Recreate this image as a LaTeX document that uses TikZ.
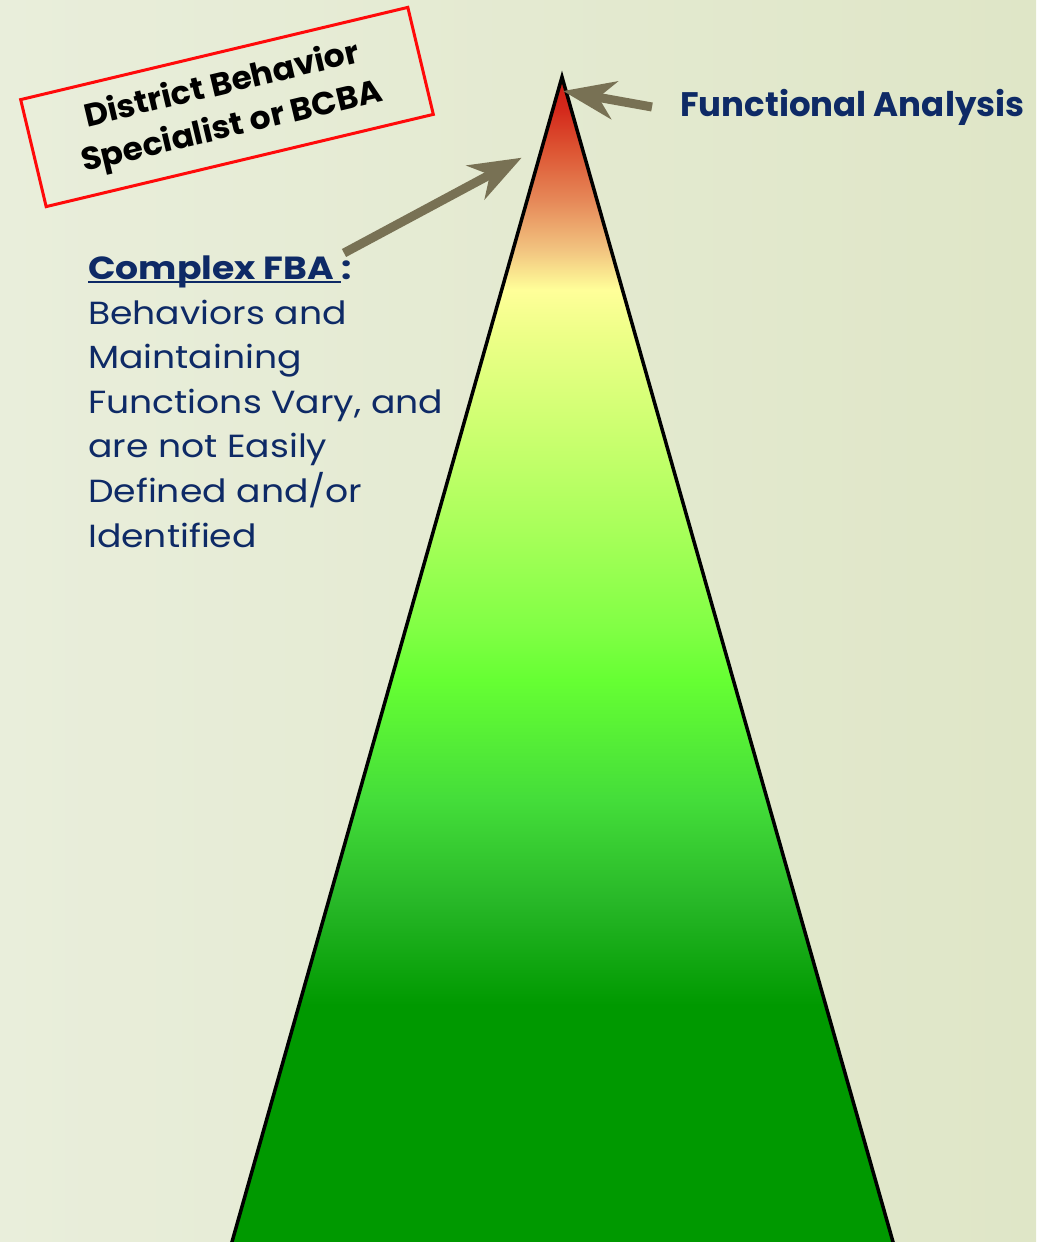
\documentclass[tikz,border=0pt]{standalone}
\usepackage{fontspec}
\setsansfont{Poppins}
\newfontfamily\popwide{Poppins}[FakeStretch=1.13]
\newfontfamily\popmid{Poppins}[FakeStretch=1.03]
\usetikzlibrary{arrows.meta}

% palette
\definecolor{bgL}{HTML}{E9EEDB}
\definecolor{bgR}{HTML}{DFE6C7}
\definecolor{navyc}{HTML}{0E2A66}
\definecolor{arrowc}{HTML}{787154}
\definecolor{boxred}{HTML}{FF0A0A}
\definecolor{pg1}{HTML}{009900}
\definecolor{pg2}{HTML}{28B828}
\definecolor{pg3}{HTML}{44DD3A}
\definecolor{pg4}{HTML}{66FF33}
\definecolor{pg5}{HTML}{80FF44}
\definecolor{pg6}{HTML}{A8FF5A}
\definecolor{pg7}{HTML}{CCFF70}
\definecolor{pg8}{HTML}{EEFF88}
\definecolor{py1}{HTML}{FFFF99}
\definecolor{py2}{HTML}{F2C480}
\definecolor{po1}{HTML}{E68858}
\definecolor{po2}{HTML}{DD5533}
\definecolor{pr2}{HTML}{D42A1C}
\definecolor{pr1}{HTML}{CC1A12}

% colour ramp of the pyramid, bottom (25bp) to apex (75bp)
\pgfdeclareverticalshading{pyramid}{100bp}{%
  color(0bp)=(pg1); color(35.84bp)=(pg1); color(40.27bp)=(pg2);
  color(44.49bp)=(pg3); color(49.56bp)=(pg4); color(51.67bp)=(pg5);
  color(55.89bp)=(pg6); color(60.11bp)=(pg7); color(64.20bp)=(pg8);
  color(66.01bp)=(py1); color(67.70bp)=(py2); color(69.81bp)=(po1);
  color(71.92bp)=(po2); color(73.61bp)=(pr2);
  color(75bp)=(pr1); color(100bp)=(pr1)}

% underline drawn at a fixed depth, crossing descenders
\newcommand\myul[1]{\setbox0=\hbox{#1}\rlap{\rule[-4pt]{\wd0}{2.8pt}}\box0}

\begin{document}
\begin{tikzpicture}[x=1pt,y=-1pt,
  arr/.style={draw=arrowc, line width=9pt,
    -{Stealth[length=52pt,width=38pt,inset=16pt]}},
  rolebox/.style={draw=boxred, line width=3pt, align=center,
    minimum width=398pt, minimum height=110pt, inner sep=0pt,
    font=\popmid\bfseries\fontsize{32}{43}\selectfont},
  label/.style={text=navyc, inner sep=0pt}]

\useasboundingbox (0,0) rectangle (1036,1242);
\shade[left color=bgL, right color=bgR] (0,0) rectangle (1036,1242);

% pyramid
\coordinate (apex) at (562,77);
\coordinate (bl) at (226.3,1262);
\coordinate (br) at (898.7,1262);
\begin{scope}
  \clip (0,0) rectangle (1036,1242);
  \shade[shading=pyramid] (apex) -- (bl) -- (br) -- cycle;
  \draw[line width=3.5pt] (bl) -- (apex) -- (br);
\end{scope}

% who carries it out
\node[rolebox, rotate=13.4] (role) at (227,107)
  {District Behavior\\Specialist or BCBA};

% description of the complex FBA (anchored on its last baseline)
\node[label, anchor=base west, align=left,
      font=\popwide\fontsize{32}{44.6}\selectfont] (fba) at (88,547)
  {{\bfseries\myul{Complex FBA\ }:}\\Behaviors and\\Maintaining\\
   Functions Vary, and\\are not Easily\\Defined and/or\\Identified};

% top level
\node[label, anchor=west, inner xsep=28pt,
      font=\sffamily\bfseries\fontsize{34}{40}\selectfont] (fa) at (652,107)
  {Functional Analysis};

% pointers
\coordinate (tailA) at (344,253);
\coordinate (tipA) at (521.7,157.7);
\coordinate (tipB) at (563,91);
\draw[arr] (tailA) -- (tipA);
\draw[arr] (fa.west) -- (tipB);
\end{tikzpicture}
\end{document}
